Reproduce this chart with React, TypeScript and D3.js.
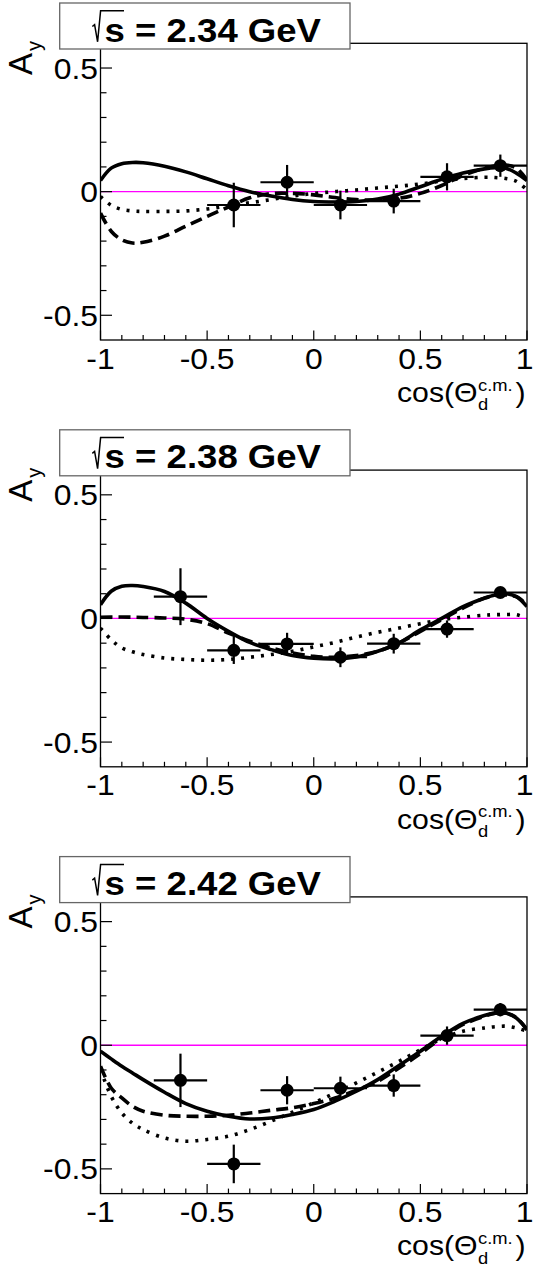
import React from "react";
import * as d3 from "d3";

// ---------------- data ----------------
const energies = ["2.34", "2.38", "2.42"];
const xTicksMajor = [-1, -0.5, 0, 0.5, 1];
const xTickLabels = ["-1", "-0.5", "0", "0.5", "1"];
const yTicksMajor = [0.5, 0, -0.5];
const yTickLabels = ["0.5", "0", "-0.5"];
const binHalfWidth = 0.125;

const p1X = [-0.375, -0.125, 0.125, 0.375, 0.625, 0.875];
const p1Y = [-0.054, 0.038, -0.054, -0.038, 0.06, 0.105];
const p1Err = [0.09, 0.07, 0.058, 0.05, 0.055, 0.045];

const p2X = [-0.625, -0.375, -0.125, 0.125, 0.375, 0.625, 0.875];
const p2Y = [0.088, -0.129, -0.103, -0.157, -0.102, -0.043, 0.105];
const p2Err = [0.115, 0.055, 0.045, 0.04, 0.04, 0.035, 0.022];

const p3X = [-0.625, -0.375, -0.125, 0.125, 0.375, 0.625, 0.875];
const p3Y = [-0.142, -0.48, -0.182, -0.174, -0.163, 0.039, 0.144];
const p3Err = [0.108, 0.078, 0.057, 0.047, 0.045, 0.037, 0.027];

const curveX = [-1, -0.95, -0.9, -0.85, -0.8, -0.7, -0.6, -0.5, -0.4, -0.3, -0.2, -0.1, 0, 0.1, 0.2, 0.3, 0.4, 0.5, 0.6, 0.7, 0.8, 0.85, 0.9, 0.95, 1.0];

const c1Solid = [0.045, 0.095, 0.113, 0.118, 0.117, 0.103, 0.08, 0.052, 0.024, 0.0, -0.018, -0.032, -0.04, -0.042, -0.04, -0.03, -0.01, 0.02, 0.05, 0.075, 0.092, 0.097, 0.095, 0.075, 0.045];
const c1Dashed = [-0.087, -0.16, -0.195, -0.208, -0.205, -0.18, -0.14, -0.1, -0.062, -0.025, -0.008, -0.007, -0.013, -0.024, -0.032, -0.034, -0.027, -0.007, 0.025, 0.065, 0.095, 0.105, 0.108, 0.095, 0.047];
const c1Dotted = [-0.02, -0.055, -0.072, -0.078, -0.08, -0.08, -0.078, -0.07, -0.057, -0.045, -0.032, -0.018, -0.007, 0.0, 0.007, 0.015, 0.022, 0.031, 0.043, 0.053, 0.058, 0.057, 0.053, 0.042, 0.007];

const c2Solid = [0.055, 0.11, 0.13, 0.133, 0.129, 0.109, 0.062, 0.0, -0.052, -0.097, -0.126, -0.15, -0.161, -0.164, -0.156, -0.133, -0.099, -0.046, 0.0, 0.048, 0.082, 0.095, 0.1, 0.088, 0.048];
const c2Dashed = [0.005, 0.006, 0.006, 0.005, 0.004, 0.002, -0.003, -0.021, -0.059, -0.092, -0.119, -0.139, -0.153, -0.157, -0.15, -0.133, -0.099, -0.052, -0.005, 0.042, 0.082, 0.093, 0.095, 0.088, 0.055];
const c2Dotted = [-0.039, -0.086, -0.119, -0.135, -0.146, -0.16, -0.166, -0.169, -0.166, -0.157, -0.146, -0.133, -0.115, -0.097, -0.075, -0.056, -0.039, -0.021, -0.005, 0.005, 0.013, 0.015, 0.016, 0.015, 0.001];

const c3Solid = [-0.024, -0.055, -0.085, -0.112, -0.139, -0.19, -0.236, -0.267, -0.287, -0.298, -0.294, -0.28, -0.26, -0.226, -0.186, -0.139, -0.082, -0.024, 0.036, 0.088, 0.12, 0.13, 0.13, 0.11, 0.063];
const c3Dashed = [-0.085, -0.173, -0.213, -0.247, -0.267, -0.283, -0.287, -0.287, -0.283, -0.274, -0.263, -0.253, -0.236, -0.213, -0.182, -0.146, -0.092, -0.034, 0.03, 0.084, 0.117, 0.13, 0.13, 0.112, 0.063];
const c3Dotted = [-0.098, -0.206, -0.274, -0.315, -0.341, -0.375, -0.388, -0.381, -0.368, -0.341, -0.307, -0.271, -0.233, -0.193, -0.152, -0.109, -0.065, -0.018, 0.026, 0.057, 0.07, 0.075, 0.077, 0.07, 0.057];

const panels = [
  { e: energies[0], px: p1X, py: p1Y, pe: p1Err, solid: c1Solid, dashed: c1Dashed, dotted: c1Dotted },
  { e: energies[1], px: p2X, py: p2Y, pe: p2Err, solid: c2Solid, dashed: c2Dashed, dotted: c2Dotted },
  { e: energies[2], px: p3X, py: p3Y, pe: p3Err, solid: c3Solid, dashed: c3Dashed, dotted: c3Dotted },
];

// ---------------- layout ----------------
const W = 534;
const H = 1270;
const PANEL_STEP = 426.8;
const FX0 = 100.5, FX1 = 527, FY0 = 43.3, FY1 = 340;
const FONT = "Liberation Sans, Arial, Helvetica, sans-serif";
const SX = 1.08;

const xScale = d3.scaleLinear().domain([-1, 1]).range([FX0, FX1]);
const yScale = d3.scaleLinear().domain([-0.6, 0.6]).range([FY1, FY0]);
const xMinor = d3.range(-10, 11).map((i) => i / 10);
const yMinor = d3.range(-5, 6).map((i) => i / 10);

function Panel({ idx }: { idx: number }) {
  const p = panels[idx];
  const line = d3
    .line<number>()
    .x((_, i) => xScale(curveX[i]))
    .y((d) => yScale(d))
    .curve(d3.curveCatmullRom.alpha(0.5));
  const clipId = `clip${idx}`;
  return (
    <g transform={`translate(0,${idx * PANEL_STEP})`}>
      <defs>
        <clipPath id={clipId}>
          <rect x={FX0} y={FY0} width={FX1 - FX0} height={FY1 - FY0} />
        </clipPath>
      </defs>
      {/* zero line */}
      <line x1={FX0} x2={FX1} y1={yScale(0)} y2={yScale(0)} stroke="#ff00ff" strokeWidth={1.3} />
      {/* curves */}
      <g clipPath={`url(#${clipId})`} fill="none" stroke="#000">
        <path d={line(p.dotted) || ""} strokeWidth={3.6} strokeDasharray="3 7" />
        <path d={line(p.dashed) || ""} strokeWidth={3.6} strokeDasharray="12 6" />
        <path d={line(p.solid) || ""} strokeWidth={3.6} />
      </g>
      {/* data points */}
      <g stroke="#000" strokeWidth={2.2}>
        {p.px.map((x, i) => (
          <g key={i}>
            <line x1={xScale(x - binHalfWidth)} x2={xScale(x + binHalfWidth)} y1={yScale(p.py[i])} y2={yScale(p.py[i])} />
            <line x1={xScale(x)} x2={xScale(x)} y1={yScale(p.py[i] + p.pe[i])} y2={yScale(p.py[i] - p.pe[i])} />
            <circle cx={xScale(x)} cy={yScale(p.py[i])} r={6.5} fill="#000" stroke="none" />
          </g>
        ))}
      </g>
      {/* frame */}
      <rect x={FX0} y={FY0} width={FX1 - FX0} height={FY1 - FY0} fill="none" stroke="#000" strokeWidth={1.3} />
      {/* ticks */}
      <g stroke="#000" strokeWidth={1.2}>
        {xMinor.map((v, i) => {
          const major = i % 5 === 0;
          return <line key={i} x1={xScale(v)} x2={xScale(v)} y1={FY1} y2={FY1 - (major ? 9.5 : 5)} />;
        })}
        {yMinor.map((v, i) => {
          const major = Math.abs(v * 10) % 5 === 0;
          return <line key={i} x1={FX0} x2={FX0 + (major ? 11.5 : 6)} y1={yScale(v)} y2={yScale(v)} />;
        })}
      </g>
      {/* tick labels */}
      <g fontFamily={FONT} fontSize={29.5} fill="#000">
        {xTicksMajor.map((v, i) => {
          const last = i === xTicksMajor.length - 1;
          const tx = last ? W - 0.5 : xScale(v);
          return (
            <text key={i} transform={`translate(${tx},368.5) scale(${SX},1)`} textAnchor={last ? "end" : "middle"}>
              {xTickLabels[i]}
            </text>
          );
        })}
        {yTicksMajor.map((v, i) => (
          <text key={i} transform={`translate(98,${yScale(v) + 10.6}) scale(${SX},1)`} textAnchor="end">
            {yTickLabels[i]}
          </text>
        ))}
      </g>
      {/* axis titles */}
      <g fontFamily={FONT} fill="#000">
        <text transform="translate(31.5,75) rotate(-90)" fontSize={33}>A</text>
        <text transform="translate(40.5,51) rotate(-90)" fontSize={20}>y</text>
        <text transform={`translate(397,401.7) scale(${SX},1)`} fontSize={28}>cos(Θ</text>
        <text transform={`translate(478,390.5) scale(${SX},1)`} fontSize={17}>c.m.</text>
        <text transform={`translate(478,410) scale(${SX},1)`} fontSize={17}>d</text>
        <text transform={`translate(515.5,401.7) scale(${SX},1)`} fontSize={28}>)</text>
      </g>
      {/* title box */}
      <rect x={59.7} y={3} width={290.3} height={46} fill="#fff" stroke="#666" strokeWidth={1.3} />
      <path d="M 92.3 26.5 L 94.6 24.6 L 97.6 41.8 L 100.6 10.8 L 124 10.8" fill="none" stroke="#000" strokeWidth={1.5} />
      <text x={104.6} y={41.7} fontFamily={FONT} fontSize={33} fontWeight="bold" textLength={216.4} lengthAdjust="spacingAndGlyphs">
        {`s = ${p.e} GeV`}
      </text>
    </g>
  );
}

export default function App() {
  return (
    <div style={{ position: "absolute", left: 0, top: 0 }}>
      <svg width={W} height={H} viewBox={`0 0 ${W} ${H}`} style={{ display: "block", background: "#fff" }}>
        <rect x={0} y={0} width={W} height={H} fill="#fff" />
        {panels.map((_, i) => (
          <Panel key={i} idx={i} />
        ))}
      </svg>
    </div>
  );
}
